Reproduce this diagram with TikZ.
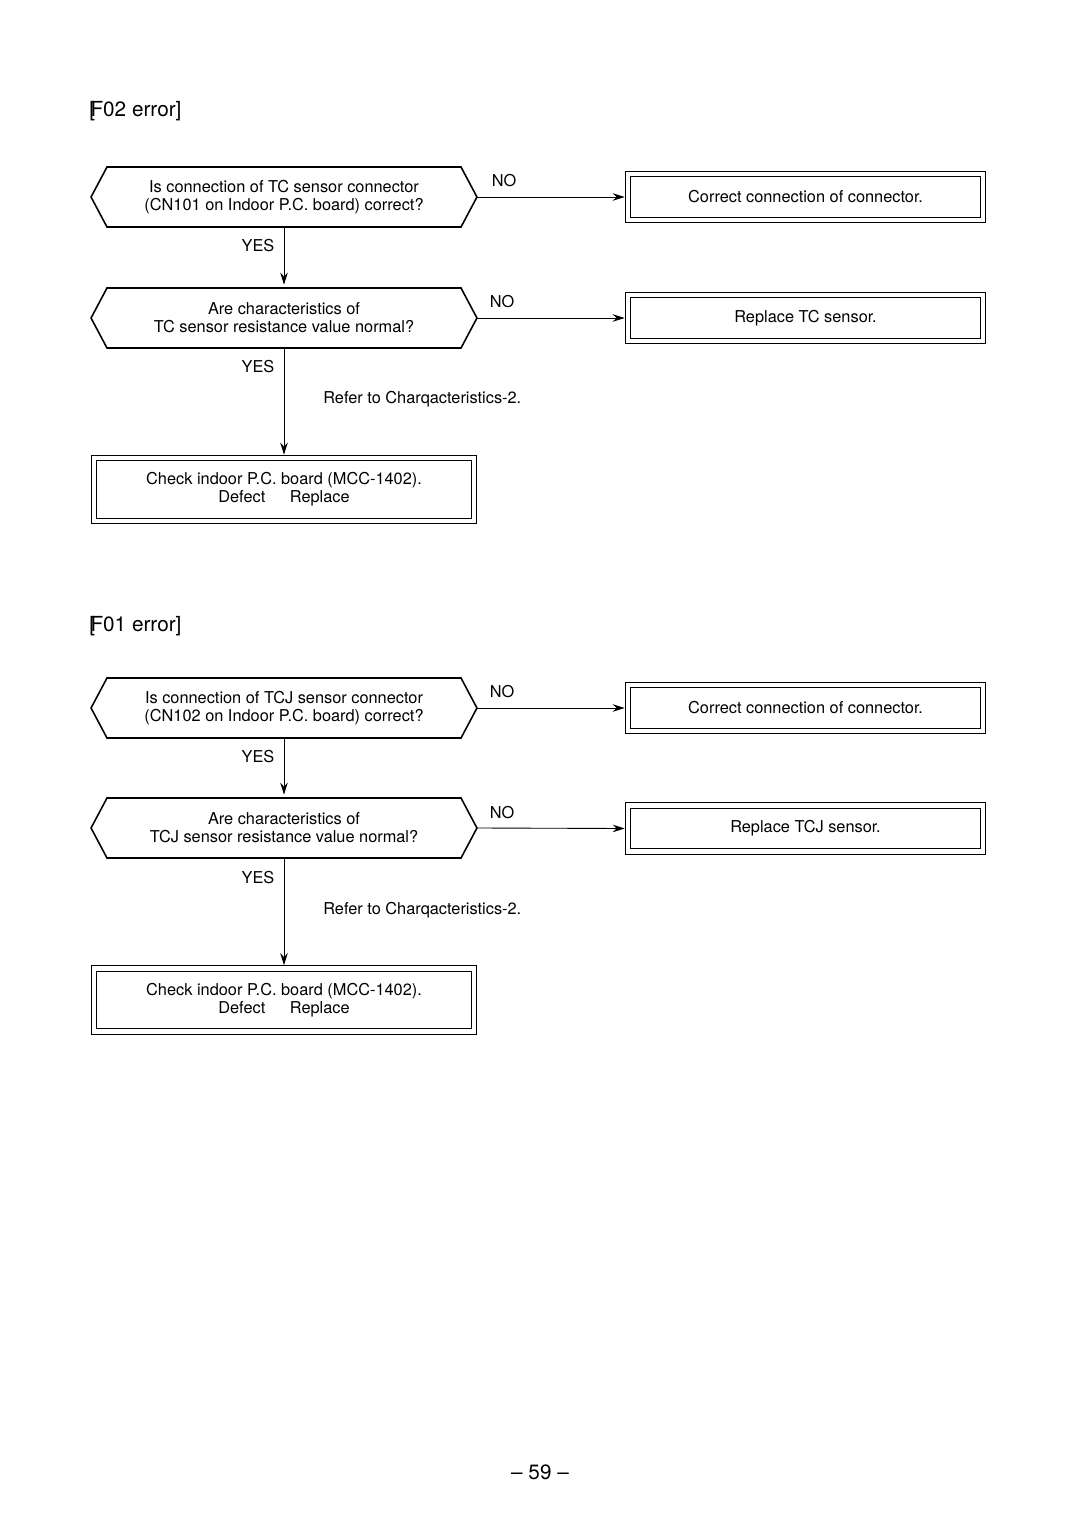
\documentclass[tikz,border=0pt]{standalone}
\usepackage{fontspec}
\setmainfont{TeX Gyre Heros}
\usepackage{tikz}
\usetikzlibrary{arrows.meta,shapes.symbols}

\newcommand{\flowfont}{\fontsize{9.3}{10.2}\selectfont}
\newcommand{\headfont}{\fontsize{11.8}{14}\selectfont}

\tikzset{
  question/.style={signal, signal to=west and east, signal pointer angle=124,
    draw, line width=0.9pt,
    minimum width=7.72cm, minimum height=1.2cm, inner sep=0pt, outer sep=0pt,
    align=center, font=\flowfont},
  answer/.style={rectangle, draw, double, line width=0.6pt, double distance=0.09cm,
    minimum width=7.1cm, minimum height=0.92cm, inner sep=0pt, outer sep=0pt,
    align=center, font=\flowfont},
  checkbox/.style={answer, minimum width=7.6cm, minimum height=1.26cm},
  lbl/.style={inner sep=0pt, font=\flowfont},
  head/.style={anchor=west, inner sep=0pt, font=\headfont},
  flow/.style={-{Stealth[length=0.24cm, width=0.15cm]}, line width=0.5pt, shorten >=1.9pt}
}

\begin{document}
\begin{tikzpicture}[x=0.02cm,y=-0.02cm]
\useasboundingbox (0,0) rectangle (1080,1525);

% F02 error
\node[head] (h1) at (89,111) {[\kern-0.22em F02 error]};
\node[question] (q1) at (284,197) {Is connection of TC sensor connector\\(CN101 on Indoor P.C. board) correct?};
\node[answer] (a1) at (805.5,197) {Correct connection of connector.};
\node[question] (q2) at (284,318) {Are characteristics of\\TC sensor resistance value normal?};
\node[answer] (a2) at (805.5,318) {Replace TC sensor.};
\node[checkbox] (c1) at (284,489.5) {Check indoor P.C. board (MCC-1402).\\Defect\hspace{14pt}Replace};

\node[lbl] (no1) at (504,181) {NO};
\node[lbl] (no2) at (502,302) {NO};
\node[lbl] (yes1) at (258,246) {YES};
\node[lbl] (yes2) at (258,367) {YES};
\node[lbl, anchor=west] (ref1) at (323,399) {Refer to Charqacteristics-2.};

\draw[flow] (q1.east) -- (a1.west);
\draw[flow] (q2.east) -- (a2.west);
\draw[flow] (q1.south) -- (q2.north);
\draw[flow] (q2.south) -- (c1.north);

% F01 error
\node[head] (h2) at (89,626) {[\kern-0.22em F01 error]};
\node[question] (q3) at (284,708) {Is connection of TCJ sensor connector\\(CN102 on Indoor P.C. board) correct?};
\node[answer] (a3) at (805.5,708) {Correct connection of connector.};
\node[question] (q4) at (284,828) {Are characteristics of\\TCJ sensor resistance value normal?};
\node[answer] (a4) at (805.5,828.5) {Replace TCJ sensor.};
\node[checkbox] (c2) at (284,1000) {Check indoor P.C. board (MCC-1402).\\Defect\hspace{14pt}Replace};

\node[lbl] (no3) at (502,692) {NO};
\node[lbl] (no4) at (502,813) {NO};
\node[lbl] (yes3) at (258,757) {YES};
\node[lbl] (yes4) at (258,878) {YES};
\node[lbl, anchor=west] (ref2) at (323,910) {Refer to Charqacteristics-2.};

\draw[flow] (q3.east) -- (a3.west);
\draw[flow] (q4.east) -- (a4.west);
\draw[flow] (q3.south) -- (q4.north);
\draw[flow] (q4.south) -- (c2.north);

% page number
\node[inner sep=0pt, font=\headfont] (pg) at (540,1472) {-- 59 --};
\end{tikzpicture}
\end{document}
